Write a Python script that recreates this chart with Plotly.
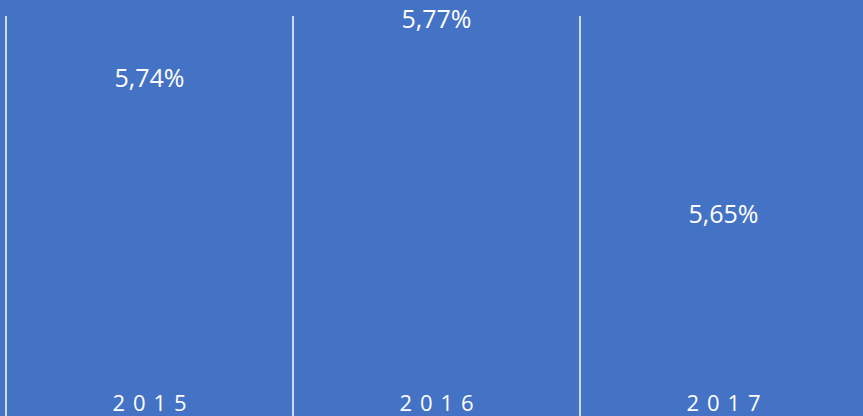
import plotly.graph_objects as go

# yearly share, labels shown with comma decimals
years = ["2015", "2016", "2017"]
year_labels = ["2 \u200a0 \u200a1 \u200a5", "2 \u200a0 \u200a1 \u200a6", "2 \u200a0 \u200a1 \u200a7"]
share = [5.737, 5.774, 5.652]

bg = "#4472C4"
grid = "#C9DAF0"

fig = go.Figure()
fig.add_trace(go.Scatter(
    x=years, y=share, mode="text",
    texttemplate="%{y:.2f}%", textposition="middle center",
    textfont=dict(family="Open Sans", size=25, color="white"),
    cliponaxis=False, hoverinfo="skip", showlegend=False,
))

fig.update_layout(
    width=863, height=416,
    margin=dict(l=0, r=0, t=16, b=0),
    paper_bgcolor=bg, plot_bgcolor=bg,
    separators=",.",
    font=dict(family="Open Sans", color="white"),
)
fig.update_xaxes(
    type="category", range=[-0.5209, 2.486], automargin=False,
    tickmode="array", tickvals=years, ticktext=year_labels,
    tickson="boundaries", showgrid=True, gridcolor=grid, gridwidth=2,
    ticks="", ticklabelposition="inside", ticklabelstandoff=-2,
    tickfont=dict(family="Open Sans", size=22, color="white"),
    showline=False, zeroline=False,
)
fig.update_yaxes(range=[5.5270, 5.7778], visible=False, showgrid=False)

fig.write_html("out.html", config={"displayModeBar": False},
               post_script="document.body.style.margin='0';")
